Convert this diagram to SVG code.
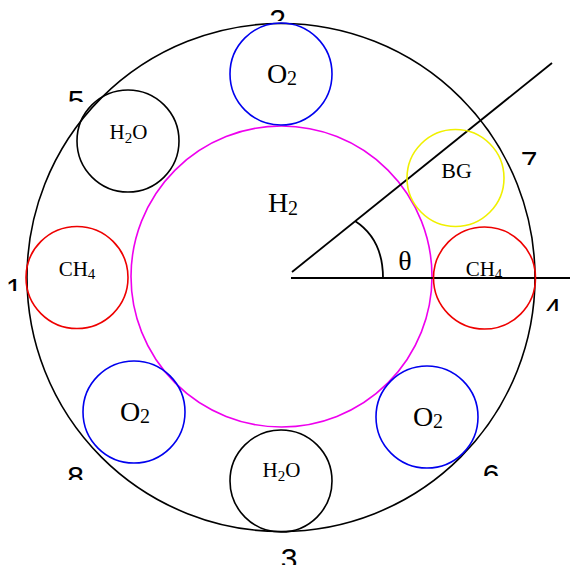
<svg xmlns="http://www.w3.org/2000/svg" width="570" height="565" viewBox="0 0 570 565">
<style>
.c{fill:none;stroke-width:1.6}
.k{stroke:#000}.b{stroke:#0000ee}.r{stroke:#ee0000}.y{stroke:#f0f000}.m{stroke:#ee00ee}
.t{font-family:"Liberation Serif","Times New Roman",serif;fill:#000;text-anchor:middle}
.n{font-family:"Liberation Sans",Arial,sans-serif;font-size:30px;fill:#000;text-anchor:middle}
.ln{stroke:#000;stroke-width:1.8;fill:none}
</style>
<defs>
<clipPath id="c1"><rect x="0" y="260" width="40" height="31"/></clipPath>
<clipPath id="c2"><rect x="255" y="0" width="45" height="21"/></clipPath>
<clipPath id="c5"><rect x="55" y="80" width="45" height="22"/></clipPath>
<clipPath id="c7"><rect x="510" y="140" width="40" height="25"/></clipPath>
<clipPath id="c4"><rect x="535" y="290" width="35" height="21"/></clipPath>
<clipPath id="c8"><rect x="55" y="455" width="45" height="25"/></clipPath>
<clipPath id="c6"><rect x="470" y="455" width="45" height="21"/></clipPath>
<clipPath id="c3"><rect x="270" y="540" width="40" height="25"/></clipPath>
</defs>
<rect width="570" height="565" fill="#fff"/>
<g id="outer"><circle class="c k" cx="281" cy="277.5" r="254"/></g>
<g id="h2"><circle class="c m" cx="281.5" cy="276.5" r="150.5"/>
<text class="t" x="283" y="212" font-size="28">H<tspan font-size="20" dy="3">2</tspan></text></g>
<g id="connectors">
<line class="ln" x1="291" y1="278" x2="570" y2="278"/>
<line class="ln" x1="292" y1="272" x2="552" y2="63"/>
<path class="ln" d="M383,278 C383,250 372,232 355,221"/>
</g>
<text class="t" x="405" y="270" font-size="28">θ</text>
<g id="o2-top"><circle class="c b" cx="281" cy="74" r="51"/>
<text class="t" x="282" y="83" font-size="28">O<tspan font-size="20" dy="2">2</tspan></text></g>
<g id="h2o-top"><circle class="c k" cx="128" cy="141" r="51"/>
<text class="t" x="128.5" y="139" font-size="21">H<tspan font-size="15" dy="4">2</tspan><tspan dy="-4">O</tspan></text></g>
<g id="bg"><circle class="c y" cx="455.5" cy="178" r="48.5"/>
<text class="t" x="456.5" y="178" font-size="22">BG</text></g>
<g id="ch4-left"><circle class="c r" cx="77" cy="277.5" r="51"/>
<text class="t" x="77" y="276" font-size="21">CH<tspan font-size="15" dy="3">4</tspan></text></g>
<g id="ch4-right"><circle class="c r" cx="484.5" cy="278" r="51"/>
<text class="t" x="484" y="276" font-size="21">CH<tspan font-size="15" dy="3">4</tspan></text></g>
<g id="o2-ll"><circle class="c b" cx="134" cy="412" r="51"/>
<text class="t" x="135" y="421" font-size="28">O<tspan font-size="20" dy="2">2</tspan></text></g>
<g id="o2-lr"><circle class="c b" cx="427" cy="417" r="51"/>
<text class="t" x="428" y="426" font-size="28">O<tspan font-size="20" dy="2">2</tspan></text></g>
<g id="h2o-bottom"><circle class="c k" cx="281" cy="481" r="51"/>
<text class="t" x="281.5" y="477" font-size="21">H<tspan font-size="15" dy="4">2</tspan><tspan dy="-4">O</tspan></text></g>
<g id="labels">
<text class="n" x="14" y="298.5" clip-path="url(#c1)">1</text>
<text class="n" x="277.5" y="29.5" clip-path="url(#c2)">2</text>
<text class="n" x="76" y="110.5" clip-path="url(#c5)">5</text>
<text class="n" x="529" y="171.5" clip-path="url(#c7)">7</text>
<text class="n" x="553" y="318.5" clip-path="url(#c4)">4</text>
<text class="n" x="75.5" y="486.5" clip-path="url(#c8)">8</text>
<text class="n" x="491" y="484.5" clip-path="url(#c6)">6</text>
<text class="n" x="289" y="568.5" clip-path="url(#c3)">3</text>
</g>
</svg>
